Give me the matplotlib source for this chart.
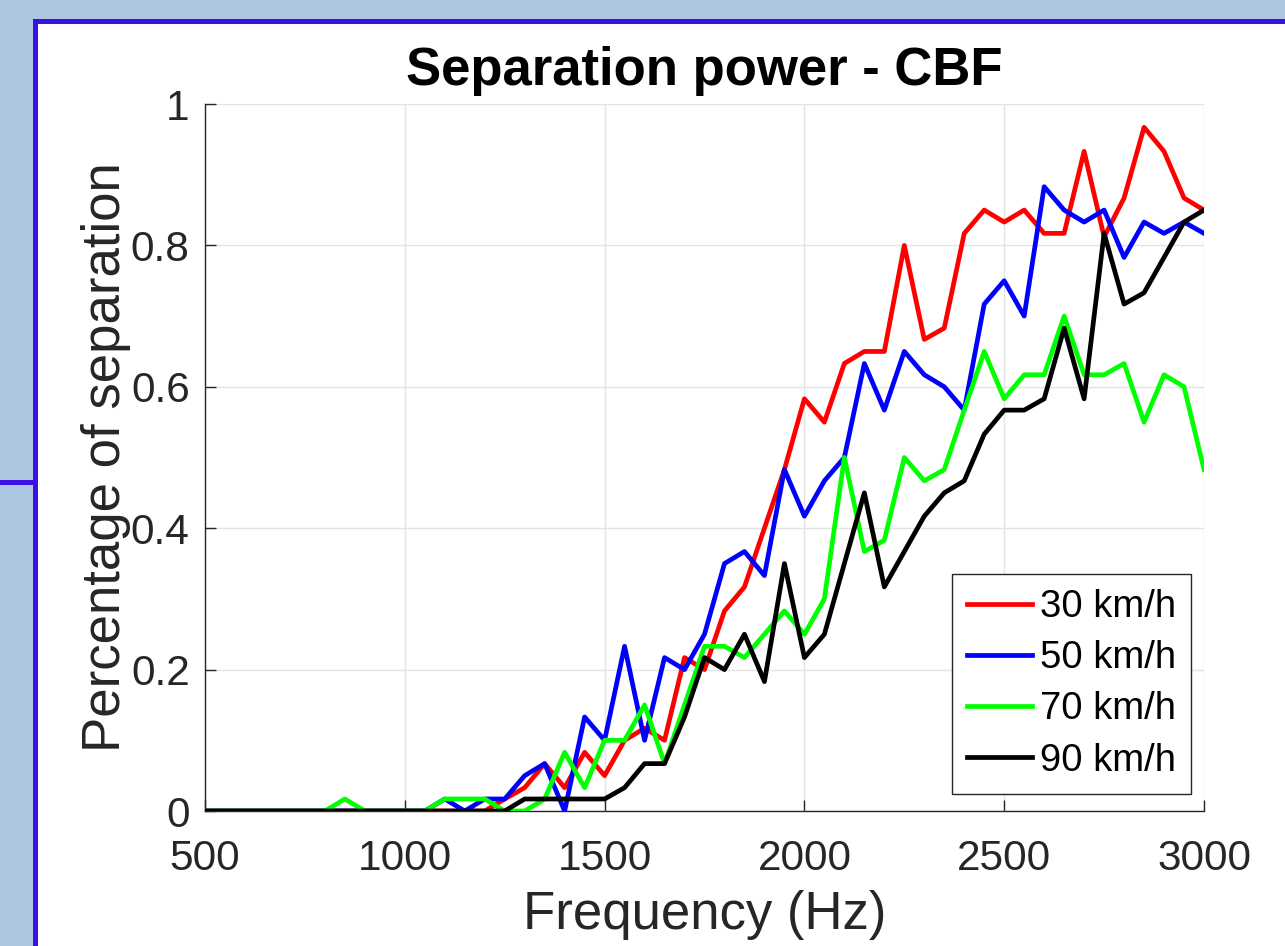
import matplotlib
matplotlib.use("Agg")
import matplotlib.pyplot as plt
from matplotlib.lines import Line2D
from matplotlib.patches import Rectangle
import numpy as np

plt.rcParams['font.family'] = ['Liberation Sans', 'DejaVu Sans']

# ---------------- data ----------------
freq = list(range(500, 3001, 50))

speed_labels = ["30 km/h", "50 km/h", "70 km/h", "90 km/h"]

sep_30 = [0, 0, 0, 0, 0, 0, 0, 0, 0, 0,            # 500-950
          0, 0, 0, 0, 0, 0.017, 0.033, 0.067, 0.033, 0.083,   # 1000-1450
          0.05, 0.10, 0.117, 0.10, 0.217, 0.20, 0.283, 0.317, 0.40, 0.483,  # 1500-1950
          0.583, 0.55, 0.633, 0.65, 0.65, 0.80, 0.667, 0.683, 0.817, 0.85,  # 2000-2450
          0.833, 0.85, 0.817, 0.817, 0.933, 0.812, 0.867, 0.967, 0.933, 0.867,  # 2500-2950
          0.85]

sep_50 = [0, 0, 0, 0, 0, 0, 0, 0, 0, 0,
          0, 0, 0.017, 0, 0.017, 0.017, 0.05, 0.067, 0, 0.133,
          0.10, 0.233, 0.10, 0.217, 0.20, 0.25, 0.35, 0.367, 0.333, 0.483,
          0.417, 0.467, 0.50, 0.633, 0.567, 0.65, 0.617, 0.60, 0.567, 0.717,
          0.75, 0.70, 0.883, 0.85, 0.833, 0.85, 0.783, 0.833, 0.817, 0.833,
          0.817]

sep_70 = [0, 0, 0, 0, 0, 0, 0, 0.017, 0, 0,
          0, 0, 0.017, 0.017, 0.017, 0, 0, 0.017, 0.083, 0.033,
          0.10, 0.10, 0.15, 0.067, 0.15, 0.233, 0.233, 0.217, 0.25, 0.283,
          0.25, 0.30, 0.50, 0.367, 0.383, 0.50, 0.467, 0.483, 0.567, 0.65,
          0.583, 0.617, 0.617, 0.70, 0.617, 0.617, 0.633, 0.55, 0.617, 0.60,
          0.483]

sep_90 = [0, 0, 0, 0, 0, 0, 0, 0, 0, 0,
          0, 0, 0, 0, 0, 0, 0.017, 0.017, 0.017, 0.017,
          0.017, 0.033, 0.067, 0.067, 0.133, 0.217, 0.20, 0.25, 0.183, 0.35,
          0.217, 0.25, 0.35, 0.45, 0.317, 0.367, 0.417, 0.45, 0.467, 0.533,
          0.567, 0.567, 0.583, 0.683, 0.583, 0.817, 0.717, 0.733, 0.783, 0.833,
          0.85]

xticks = [500, 1000, 1500, 2000, 2500, 3000]
yticks = [0, 0.2, 0.4, 0.6, 0.8, 1]
ytick_labels = ["0", "0.2", "0.4", "0.6", "0.8", "1"]

series = [sep_30, sep_50, sep_70, sep_90]
colors = ["#ff0000", "#0000ff", "#00ff00", "#000000"]

# ---------------- figure ----------------
W, H = 1285, 946
fig = plt.figure(figsize=(W / 100, H / 100), dpi=100)
fig.patch.set_facecolor("#adc6e1")

def fx(px):
    return px / W

def fy(py):
    return 1 - py / H

# white slide panel
fig.add_artist(Rectangle((fx(35), 0), 1 - fx(35), fy(21), transform=fig.transFigure,
                         facecolor="white", edgecolor="none", zorder=0))
border_c = "#3b10e2"
lw_b = 5 * 72 / 100
fig.add_artist(Line2D([fx(34.5), fx(34.5)], [0, fy(21.5)], transform=fig.transFigure,
                      color=border_c, lw=lw_b, solid_capstyle="projecting"))
fig.add_artist(Line2D([fx(34.5), 1.01], [fy(21.5), fy(21.5)], transform=fig.transFigure,
                      color=border_c, lw=lw_b, solid_capstyle="projecting"))
fig.add_artist(Line2D([0, fx(34.5)], [fy(482), fy(482)], transform=fig.transFigure,
                      color=border_c, lw=lw_b))

ax = fig.add_axes([fx(205), fy(811), fx(1204) - fx(205), fy(104) - fy(811)])
ax.set_facecolor("white")

for vals, c, lab in zip(series, colors, speed_labels):
    ax.plot(freq, vals, color=c, lw=3.4, label=lab, zorder=3)

ax.set_xlim(500, 3000)
ax.set_ylim(0, 1)
ax.set_xticks(xticks)
ax.set_yticks(yticks)
ax.set_yticklabels(ytick_labels)

ax.grid(True, color="#e4e4e4", lw=1.0, zorder=0)
ax.set_axisbelow(True)

for s in ["top", "right"]:
    ax.spines[s].set_visible(False)
for s in ["left", "bottom"]:
    ax.spines[s].set_color("#262626")
    ax.spines[s].set_linewidth(1.0)

ax.tick_params(axis="both", direction="in", length=8, width=1.0, color="#262626",
               labelcolor="#262626", labelsize=30.5)
ax.tick_params(axis="x", pad=20)
ax.tick_params(axis="y", pad=11)

ax.set_title("Separation power - CBF", fontsize=38, fontweight="bold", pad=14)
ax.set_xlabel("Frequency (Hz)", fontsize=38, color="#262626", labelpad=8)
ax.set_ylabel("Percentage of separation", fontsize=38, color="#262626", labelpad=0)

leg = ax.legend(loc="lower right", bbox_to_anchor=(0.987, 0.024), borderaxespad=0,
                fontsize=27.5, frameon=True, fancybox=False, framealpha=1,
                edgecolor="#262626", handlelength=1.7, handletextpad=0.2,
                labelspacing=0.4, borderpad=0.4)
leg.get_frame().set_linewidth(1.0)

fig.savefig("out.png", dpi=100, facecolor=fig.get_facecolor())
